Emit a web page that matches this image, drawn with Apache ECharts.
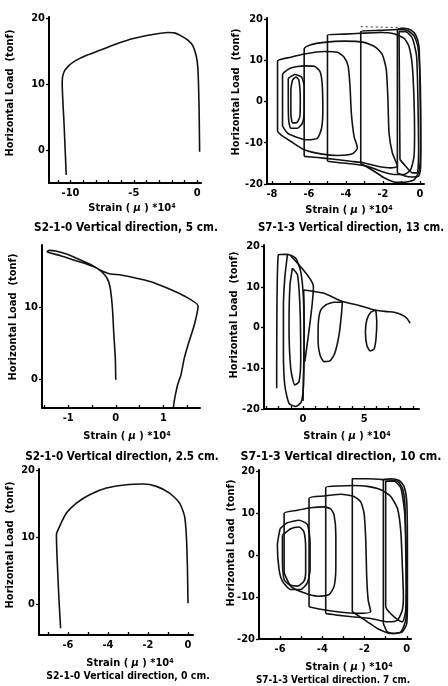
<!DOCTYPE html>
<html><head><meta charset="utf-8">
<script src="https://cdn.jsdelivr.net/npm/echarts@6/dist/echarts.min.js"></script>
<style>html,body{margin:0;padding:0;background:#fff}#c{width:448px;height:686px}</style>
</head><body><div id="c"></div><script>
// ---------- Panel 1: S2-1-0 Vertical direction, 5 cm ----------
const p1Curve = [[-10.34,-3.77],[-10.5,3.5],[-10.66,10.3],[-10.53,11.81],[-10.13,12.81],[-9.6,13.57],[-8.68,14.42],[-7.62,15.18],[-6.56,15.98],[-5.5,16.68],[-4.44,17.19],[-3.39,17.59],[-2.33,17.84],[-1.8,17.79],[-1.27,17.34],[-0.74,16.68],[-0.34,15.83],[-0.08,14.32],[0.05,12.56],[0.11,9.55],[0.16,5.03],[0.19,-0.25]];
const p1XLabels = [-10,-5,0];
const p1YLabels = [0,10,20];

// ---------- Panel 2: S7-1-3 Vertical direction, 13 cm ----------
const p2In1 = [[-6.89,5.2],[-6.71,5.9],[-6.55,5.2],[-6.47,0.4],[-6.49,-3.6],[-6.65,-5.1],[-6.89,-5.2],[-6.98,-2.8],[-6.98,2.8],[-6.89,5.2]];
const p2In2 = [[-7.12,5.6],[-6.76,6.5],[-6.40,5.9],[-6.26,3.6],[-6.26,-2.0],[-6.35,-5.2],[-6.62,-6.5],[-6.98,-6.5],[-7.10,-4.4],[-7.12,2.0],[-7.12,5.6]];
const p2LoopC = [[-7.43,-6.0],[-7.43,6.5],[-6.98,8.1],[-6.26,8.6],[-5.72,8.5],[-5.41,7.3],[-5.29,4.4],[-5.25,-2.0],[-5.32,-6.5],[-5.54,-8.9],[-6.08,-9.3],[-6.71,-8.6],[-7.16,-7.7],[-7.43,-6.0]];
const p2LoopD = [[-7.70,-7.3],[-7.70,9.7],[-6.98,10.7],[-6.26,11.5],[-5.18,12.1],[-4.46,11.9],[-4.10,10.7],[-3.88,8.5],[-3.78,3.6],[-3.71,-2.8],[-3.56,-8.5],[-3.38,-11.3],[-3.65,-12.7],[-4.46,-13.1],[-5.36,-12.7],[-6.26,-11.7],[-6.98,-9.7],[-7.52,-8.1],[-7.70,-7.3]];
const p2LoopE = [[-6.26,-13.3],[-6.26,12.7],[-5.90,13.7],[-5.18,14.3],[-4.10,14.6],[-3.02,14.3],[-2.39,13.1],[-2.03,11.3],[-1.82,7.7],[-1.73,0.4],[-1.67,-7.7],[-1.49,-12.5],[-1.22,-15.7],[-1.58,-16.1],[-2.30,-15.7],[-3.02,-14.9],[-3.74,-14.5],[-4.64,-14.0],[-5.54,-13.6],[-6.26,-13.3]];
const p2LoopF = [[-5.0,-14.5],[-5.0,16.1],[-4.10,16.3],[-3.20,16.5],[-2.12,16.7],[-1.40,16.4],[-0.86,15.3],[-0.59,13.3],[-0.41,8.5],[-0.32,0.4],[-0.29,-7.7],[-0.32,-13.3],[-0.50,-16.5],[-0.86,-17.7],[-1.40,-17.7],[-2.12,-16.9],[-2.84,-15.7],[-3.74,-15.1],[-4.46,-14.8],[-5.0,-14.5]];
const p2LoopG = [[-3.20,-15.1],[-3.20,16.9],[-2.12,17.2],[-1.22,17.4],[-0.68,17.2],[-0.32,15.9],[-0.11,13.3],[0,6.9],[0.04,-2.0],[0.04,-11.7],[-0.05,-16.9],[-0.32,-19.0],[-0.86,-19.6],[-1.40,-19.5],[-1.94,-18.5],[-2.48,-16.9],[-2.93,-15.7],[-3.20,-15.1]];
const p2LoopH = [[-1.22,-17.3],[-1.22,17.3],[-0.86,17.7],[-0.50,17.3],[-0.23,16.1],[-0.05,13.3],[0,4.4],[0.04,-7.7],[0.04,-15.7],[-0.05,-18.0],[-0.41,-18.3],[-0.86,-18.0],[-1.22,-17.3]];
const p2LoopI = [[-1.08,-14.1],[-1.13,16.9],[-0.77,16.9],[-0.41,15.3],[-0.18,10.9],[-0.11,0.4],[-0.07,-11.7],[-0.14,-17.3],[-0.41,-17.3],[-0.77,-15.7],[-1.08,-14.1]];
const p2Dashed = [[-3.2,18.1],[-1.22,17.9],[-0.77,17.7]];
const p2XLabels = [-8,-6,-4,-2,0];
const p2YLabels = [-20,-10,0,10,20];

// ---------- Panel 3: S2-1-0 Vertical direction, 2.5 cm ----------
const p3Curve = [[0,-0.14],[-0.01,2.9],[-0.04,6.17],[-0.07,9.91],[-0.11,12.48],[-0.15,13.65],[-0.23,14.59],[-0.39,15.52],[-0.60,16.08],[-0.88,16.69],[-1.16,17.30],[-1.37,17.67],[-1.44,17.86],[-1.40,18.04],[-1.26,17.95],[-1.02,17.49],[-0.74,16.69],[-0.53,16.08],[-0.39,15.52],[-0.25,15.05],[-0.11,14.73],[0.11,14.59],[0.39,14.21],[0.74,13.65],[1.09,12.72],[1.44,11.64],[1.73,10.24],[1.65,7.57],[1.54,5.24],[1.44,2.90],[1.37,0.56],[1.30,-0.84],[1.24,-2.71],[1.21,-4.02]];
const p3XLabels = [-1,0,1];
const p3YLabels = [0,10];

// ---------- Panel 4: S7-1-3 Vertical direction, 10 cm ----------
const p4Envelope = [[0.08,9.26],[1.72,8.44],[3.22,6.39],[4.45,5.57],[5.82,4.34],[6.91,3.93],[7.46,3.77],[8.0,3.28],[8.5,2.3],[8.77,1.07]];
const p4Hang1 = [[3.22,6.23],[2.54,6.23],[1.86,5.57],[1.45,4.34],[1.26,1.48],[1.23,-3.44],[1.39,-6.72],[1.72,-8.36],[2.21,-8.20],[2.60,-6.31],[2.95,-1.80],[3.14,3.11],[3.22,6.23]];
const p4Hang2 = [[5.96,4.34],[5.55,3.77],[5.22,1.89],[5.11,-0.98],[5.22,-4.26],[5.49,-5.74],[5.82,-5.25],[5.98,-2.62],[6.04,1.48],[5.96,4.34]];
const p4Outer = [[-2.16,-14.9],[-2.02,17.9],[-1.28,18.0],[-0.6,17.05],[-0.19,13.77],[0.03,7.21],[0.08,-3.44],[0.03,-14.1],[-0.14,-18.2],[-0.6,-19.4],[-1.15,-18.6],[-1.5,-14.1],[-1.61,-5.9],[-1.61,4.75],[-1.5,12.1],[-1.28,17.9]];
const p4Inner = [[-0.87,14.6],[-0.46,13.0],[-0.25,4.75],[-0.19,-7.54],[-0.33,-13.3],[-0.68,-14.1],[-1.01,-10.0],[-1.15,0.66],[-1.07,10.5],[-0.87,14.6]];
const p4Slant = [[-1.0,17.6],[0.85,10.1],[0.14,-8.4]];
const p4Right = [[0.05,9.3],[0.1,0],[0.05,-10],[0,-18]];
const p4XLabels = [0,5];
const p4YLabels = [-20,-10,0,10,20];

// ---------- Panel 5: S2-1-0 Vertical direction, 0 cm ----------
const p5Curve = [[-6.37,-3.65],[-6.45,0.6],[-6.58,10.35],[-6.42,11.6],[-6.08,13.6],[-5.58,15.1],[-4.92,16.35],[-4.08,17.35],[-3.08,17.85],[-2.25,17.95],[-1.58,17.6],[-0.92,16.6],[-0.42,15.1],[-0.17,13.1],[-0.08,10.1],[-0.03,5.6],[0,0.1]];
const p5XLabels = [-6,-4,-2,0];
const p5YLabels = [0,10,20];

// ---------- Panel 6: S7-1-3 Vertical direction, 7 cm ----------
const p6In1 = [[-5.89,4.7],[-5.50,6.3],[-5.10,6.7],[-4.87,5.5],[-4.79,1.5],[-4.79,-4.2],[-4.87,-6.2],[-5.18,-7.4],[-5.58,-7.0],[-5.81,-5.8],[-5.89,-1.0],[-5.89,4.7]];
const p6In2 = [[-6.00,6.3],[-5.66,7.7],[-5.10,8.3],[-4.71,7.3],[-4.58,3.1],[-4.58,-3.4],[-4.71,-6.6],[-5.02,-8.2],[-5.50,-8.2],[-5.89,-6.2],[-6.05,-3.4],[-6.13,2.3],[-6.00,6.3]];
const p6LoopC = [[-5.81,-4.2],[-5.81,9.9],[-5.18,10.7],[-4.55,11.3],[-3.92,11.5],[-3.60,11.0],[-3.44,9.5],[-3.36,4.7],[-3.36,-2.6],[-3.44,-7.4],[-3.68,-9.4],[-4.23,-9.8],[-4.87,-9.0],[-5.50,-7.4],[-5.81,-4.2]];
const p6LoopD = [[-4.63,-12.3],[-4.63,13.5],[-3.92,14.1],[-3.13,14.5],[-2.50,14.0],[-2.18,12.7],[-2.02,9.9],[-1.94,3.1],[-1.90,-5.0],[-1.83,-10.6],[-1.71,-13.5],[-2.34,-13.9],[-3.29,-13.5],[-4.08,-12.9],[-4.63,-12.3]];
const p6LoopE = [[-3.84,-13.9],[-3.84,16.1],[-3.13,16.5],[-2.58,16.6],[-1.86,16.4],[-1.23,15.6],[-0.76,14.0],[-0.44,11.1],[-0.28,5.5],[-0.21,-2.6],[-0.16,-9.8],[-0.21,-13.1],[-0.44,-15.5],[-0.92,-15.9],[-1.71,-15.1],[-2.58,-14.7],[-3.29,-14.3],[-3.84,-13.9]];
const p6LoopF = [[-2.58,-13.5],[-2.58,18.2],[-1.86,18.2],[-1.11,18.0],[-0.44,17.6],[-0.21,16.0],[-0.09,12.3],[-0.05,1.5],[0,-10.6],[-0.05,-15.5],[-0.28,-18.3],[-0.76,-18.7],[-1.39,-17.5],[-1.86,-15.9],[-2.34,-14.3],[-2.58,-13.5]];
const p6LoopG = [[-1.11,-16.3],[-1.11,18.0],[-0.76,18.2],[-0.36,17.8],[-0.13,16.4],[0,12.7],[0.03,1.5],[0.03,-10.6],[0,-16.3],[-0.21,-18.3],[-0.60,-18.7],[-0.92,-18.3],[-1.11,-16.3]];
const p6LoopH = [[-1.00,-12.3],[-1.00,17.6],[-0.60,17.6],[-0.28,16.0],[-0.09,9.5],[-0.03,-2.6],[-0.05,-13.1],[-0.21,-15.9],[-0.60,-14.7],[-0.92,-13.1],[-1.00,-12.3]];
const p6XLabels = [-6,-4,-2,0];
const p6YLabels = [-20,-10,0,10,20];

const captions = ['S2-1-0 Vertical direction, 5 cm.','S7-1-3 Vertical direction, 13 cm.','S2-1-0 Vertical direction, 2.5 cm.','S7-1-3 Vertical direction, 10 cm.','S2-1-0 Vertical direction, 0 cm.','S7-1-3 Vertical direction. 7 cm.'];
const yName = 'Horizontal Load  (tonf)';

// ---------- layout ----------
const FONT = '"DejaVu Sans Condensed", "DejaVu Sans"';
const grids = [
  {left:49, top:17, width:152, height:166},
  {left:267, top:18, width:157, height:166},
  {left:42, top:245, width:158, height:163},
  {left:264, top:245, width:155, height:164},
  {left:39, top:469, width:154, height:166},
  {left:259, top:470, width:152, height:169}
];
const xRanges = [[-11.7,0.3],[-8.27,0.22],[-1.55,1.77],[-3.2,9.5],[-7.45,0.25],[-7.0,0.2]];
const yRanges = [[-5,20.2],[-20,20.2],[-4.1,18.8],[-20,20.3],[-4.65,20.2],[-20,20.3]];
const xTicks = [
  [-11,-10,-9,-8,-7,-6,-5,-4,-3,-2,-1,0],
  [-8,-7,-6,-5,-4,-3,-2,-1,0],
  [-1.5,-1,-0.5,0,0.5,1,1.5],
  [-3,-2,-1,0,1,2,3,4,5,6,7,8,9],
  [-7,-6,-5,-4,-3,-2,-1,0],
  [-7,-6,-5,-4,-3,-2,-1,0]
];
const xLabels = [p1XLabels,p2XLabels,p3XLabels,p4XLabels,p5XLabels,p6XLabels];
const yLabels = [p1YLabels,p2YLabels,p3YLabels,p4YLabels,p5YLabels,p6YLabels];
const xNamePos = [[132,208],[349,210],[127,436],[347,436],[130,663],[349,667]];
const yNamePos = [[10,93],[236,92],[13,317],[234,315],[10,545],[231,543]];
const capPos = [[126,228,11.7],[351,228,11.4],[122,456.5,11.6],[341,456.5,12.3],[128,676.5,10.4],[333,680,9.8]];

const xAxes = [], yAxes = [];
for (let i = 0; i < 6; i++) {
  xAxes.push({type:'value', gridIndex:i, min:xRanges[i][0], max:xRanges[i][1],
    axisLine:{show:true, onZero:false, lineStyle:{color:'#000', width:2}},
    axisTick:{show:true, inside:true, length:3, customValues:xTicks[i], lineStyle:{color:'#000', width:1.3}},
    axisLabel:{show:true, customValues:xLabels[i], color:'#000', fontFamily:FONT, fontWeight:'bold', fontSize:11, margin:5},
    splitLine:{show:false}});
  yAxes.push({type:'value', gridIndex:i, min:yRanges[i][0], max:yRanges[i][1],
    axisLine:{show:true, onZero:false, lineStyle:{color:'#000', width:2}},
    axisTick:{show:true, inside:false, length:3, customValues:yLabels[i], lineStyle:{color:'#000', width:1.3}},
    axisLabel:{show:true, customValues:yLabels[i], color:'#000', fontFamily:FONT, fontWeight:'bold', fontSize:11, margin:4},
    splitLine:{show:false}});
}

const seriesDefs = [
  [0,p1Curve],
  [1,p2In1],[1,p2In2],[1,p2LoopC],[1,p2LoopD],[1,p2LoopE],[1,p2LoopF],[1,p2LoopG],[1,p2LoopH],[1,p2LoopI],
  [2,p3Curve],
  [3,p4Envelope],[3,p4Hang1],[3,p4Hang2],[3,p4Outer],[3,p4Inner],[3,p4Slant],[3,p4Right],
  [4,p5Curve],
  [5,p6In1],[5,p6In2],[5,p6LoopC],[5,p6LoopD],[5,p6LoopE],[5,p6LoopF],[5,p6LoopG],[5,p6LoopH]
];
const series = seriesDefs.map(([g,d]) => ({
  type:'line', xAxisIndex:g, yAxisIndex:g, data:d, showSymbol:false, symbol:'none',
  smooth:0.2, silent:true, lineStyle:{color:'#111', width:1.6}
}));
series.push({type:'line', xAxisIndex:1, yAxisIndex:1, data:p2Dashed, showSymbol:false, symbol:'none', silent:true,
  lineStyle:{color:'#333', width:1, type:[2,3]}});

const graphics = [];
for (let i = 0; i < 6; i++) {
  graphics.push({type:'text', x:yNamePos[i][0], y:yNamePos[i][1], rotation:Math.PI/2,
    style:{text:yName, fill:'#000', font:'bold 11px ' + FONT, align:'center', verticalAlign:'middle'}});
  graphics.push({type:'text', x:xNamePos[i][0], y:xNamePos[i][1],
    style:{text:'Strain ( {i|μ} ) *10{s|4}', fill:'#000', font:'bold 11px ' + FONT, align:'center', verticalAlign:'middle',
      rich:{i:{fontFamily:FONT, fontWeight:'bold', fontStyle:'italic', fontSize:11, fill:'#000'},
            s:{fontFamily:FONT, fontWeight:'bold', fontSize:7, fill:'#000', verticalAlign:'top', lineHeight:8}}}});
  graphics.push({type:'text', x:capPos[i][0], y:capPos[i][1],
    style:{text:captions[i], fill:'#000', font:'bold ' + capPos[i][2] + 'px ' + FONT, align:'center', verticalAlign:'middle'}});
}

const chart = echarts.init(document.getElementById('c'), null, {renderer:'canvas'});
chart.setOption({
  animation:false,
  backgroundColor:'#fff',
  grid: grids.map(g => Object.assign({containLabel:false, outerBoundsMode:'none'}, g)),
  xAxis: xAxes,
  yAxis: yAxes,
  series: series,
  graphic: graphics
});
</script></body></html>
